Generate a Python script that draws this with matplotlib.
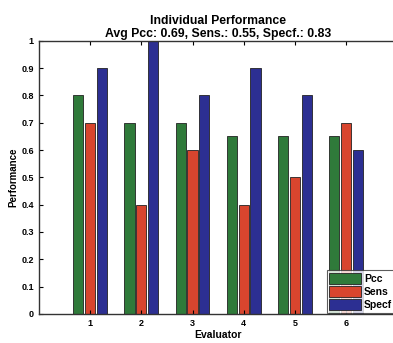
import numpy as np
import matplotlib
matplotlib.use('Agg')
import matplotlib.pyplot as plt

plt.rcParams['font.family'] = ['Liberation Sans', 'DejaVu Sans']
plt.rcParams['font.weight'] = 'bold'

evaluators = [1, 2, 3, 4, 5, 6]
pcc = [0.80, 0.70, 0.70, 0.65, 0.65, 0.65]
sens = [0.70, 0.40, 0.60, 0.40, 0.50, 0.70]
specf = [0.90, 1.00, 0.80, 0.90, 0.80, 0.60]

fig = plt.figure(figsize=(3.93, 3.43), dpi=100)
ax = fig.add_axes([0.099, 0.085, 0.912, 0.796])

x = np.array(evaluators)
w = 0.2
ax.bar(x - 0.23, pcc, w, color='#2f7a3a', edgecolor='#222222', linewidth=0.6, label='Pcc')
ax.bar(x, sens, w, color='#d8452e', edgecolor='#222222', linewidth=0.6, label='Sens')
ax.bar(x + 0.23, specf, w, color='#2c2f92', edgecolor='#222222', linewidth=0.6, label='Specf')

ax.set_xlim(0, 7)
ax.set_ylim(0, 1)
ax.set_xticks(evaluators)
ax.set_yticks(np.arange(0, 1.01, 0.1))
ax.set_yticklabels(['0', '0.1', '0.2', '0.3', '0.4', '0.5', '0.6', '0.7', '0.8', '0.9', '1'])
ax.tick_params(direction='in', length=3, labelsize=6.5, top=True, right=True, width=0.8)
for s in ax.spines.values():
    s.set_linewidth(1.0)
    s.set_color('#333333')

ax.set_xlabel('Evaluator', fontsize=7.5, fontweight='bold', labelpad=2)
ax.set_ylabel('Performance', fontsize=7, fontweight='bold', labelpad=2)
ax.set_title('Individual Performance\nAvg Pcc: 0.69, Sens.: 0.55, Specf.: 0.83',
             fontsize=8.8, fontweight='bold', pad=3, linespacing=1.05)

leg = ax.legend(loc='lower right', bbox_to_anchor=(0.995, 0.0), fontsize=7.5,
                frameon=True, fancybox=False, edgecolor='#333333',
                handlelength=3.0, handleheight=1.3, handletextpad=0.3,
                borderpad=0.25, labelspacing=0.15, borderaxespad=0.1)
leg.get_frame().set_linewidth(0.8)

fig.savefig('out.png', dpi=100)
